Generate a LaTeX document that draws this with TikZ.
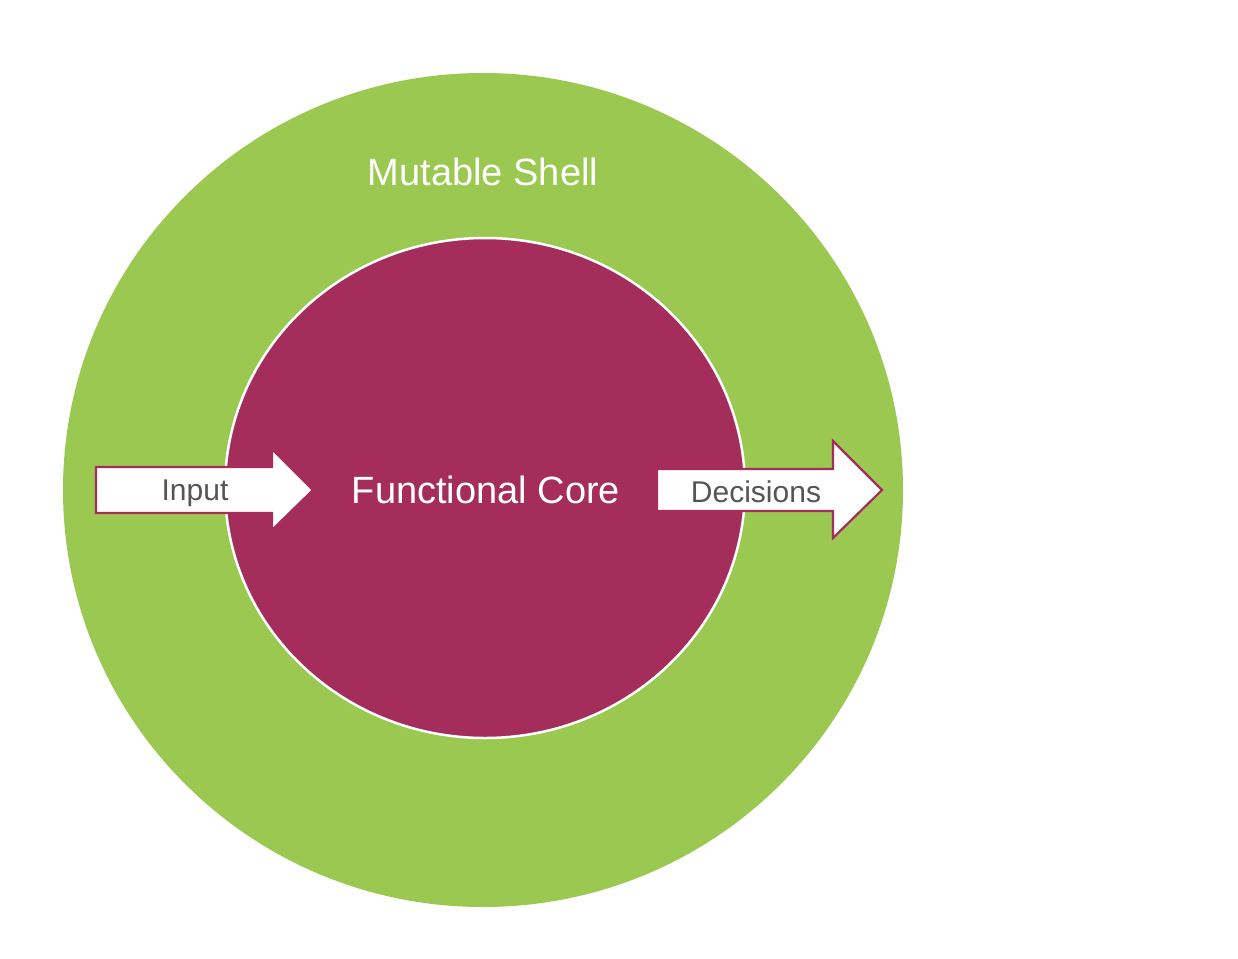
\documentclass[tikz,border=0pt]{standalone}
\usepackage{fontspec}
\setmainfont{Liberation Sans}
\usepackage{tikz}
\usetikzlibrary{shapes.geometric}
\definecolor{shellgreen}{HTML}{9BC850}
\definecolor{coremagenta}{HTML}{A52D5B}
\definecolor{labelgray}{HTML}{555555}
\tikzset{
  ring/.style={ellipse, inner sep=0pt},
  flowarrow/.style={draw=coremagenta, fill=white, line width=2.2pt, line join=miter},
  bigtext/.style={text=white, font=\fontsize{38}{40}\selectfont},
  arrowtext/.style={text=labelgray, font=\fontsize{30}{32}\selectfont}
}

\begin{document}
\begin{tikzpicture}[x=1pt, y=-1pt]
  \useasboundingbox (0,0) rectangle (1238,958);
  \node[ring, fill=shellgreen, minimum width=840pt, minimum height=834pt] (shell) at (483,490) {};
  \node[ring, fill=coremagenta, draw=white, line width=2.5pt, minimum width=520pt, minimum height=500pt] (core) at (485,488) {};

  % input arrow
  \draw[flowarrow] (96,467) -- (272,467) -- (272,449) -- (313,490) -- (272,530) -- (272,513) -- (96,513) -- cycle;
  % decisions arrow
  \draw[flowarrow] (657,469) -- (833,469) -- (833,441) -- (882,490) -- (833,538) -- (833,511) -- (657,511) -- cycle;

  \node[bigtext] (shelllabel) at (483,172) {Mutable Shell};
  \node[bigtext] (corelabel) at (486,490) {Functional Core};
  \node[arrowtext] (input) at (195,493) {Input};
  \node[arrowtext] (decisions) at (756,492) {Decisions};
\end{tikzpicture}
\end{document}
